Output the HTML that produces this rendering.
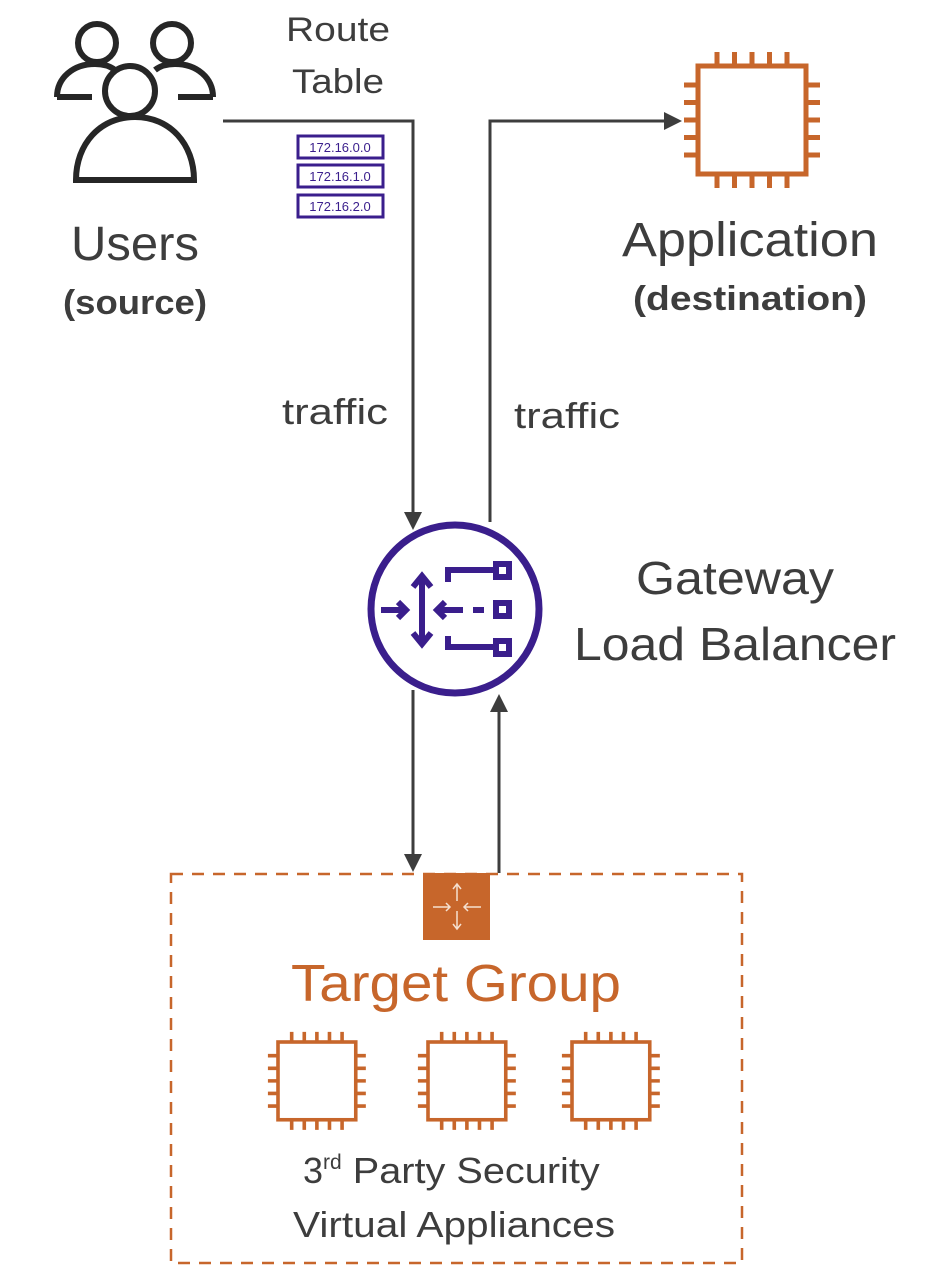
<!DOCTYPE html>
<html><head><meta charset="utf-8"><style>
html,body{margin:0;padding:0;background:#fff;}
svg{display:block;}
text{font-family:"Liberation Sans",sans-serif;fill:#3d3d3d;}
</style></head><body>
<svg width="944" height="1274" viewBox="0 0 944 1274" xmlns="http://www.w3.org/2000/svg">
<defs>
<g id="chip" fill="none" stroke="#c7662b" stroke-width="5">
  <rect x="0" y="0" width="108" height="108"/>
  <path d="M19 0v-14M36.5 0v-14M54 0v-14M71.5 0v-14M89 0v-14 M19 108v14M36.5 108v14M54 108v14M71.5 108v14M89 108v14 M0 19h-14M0 36.5h-14M0 54h-14M0 71.5h-14M0 89h-14 M108 19h14M108 36.5h14M108 54h14M108 71.5h14M108 89h14"/>
</g>
</defs>

<!-- Users icon -->
<g fill="none" stroke="#262626" stroke-width="6">
  <circle cx="97" cy="43" r="19"/>
  <circle cx="172" cy="43" r="19"/>
  <path d="M57 97 C57 78 73 64 95 64 C104 64 110 66 115 70"/>
  <path d="M57 97 H92"/>
  <path d="M213 97 C213 78 197 64 175 64 C166 64 160 66 155 70"/>
  <path d="M213 97 H178"/>
  <circle cx="130" cy="91" r="25"/>
  <path d="M76 180 C76 144 100 117 135 117 C170 117 194 144 194 180 Z"/>
</g>

<!-- Labels -->
<text x="338" y="41" font-size="34" text-anchor="middle" textLength="104" lengthAdjust="spacingAndGlyphs">Route</text>
<text x="338" y="93" font-size="34" text-anchor="middle" textLength="92" lengthAdjust="spacingAndGlyphs">Table</text>
<text x="135" y="260" font-size="48" text-anchor="middle" textLength="128" lengthAdjust="spacingAndGlyphs">Users</text>
<text x="135" y="314" font-size="34" font-weight="bold" text-anchor="middle" textLength="144" lengthAdjust="spacingAndGlyphs">(source)</text>
<text x="750" y="256" font-size="48" text-anchor="middle" textLength="256" lengthAdjust="spacingAndGlyphs">Application</text>
<text x="750" y="310" font-size="34" font-weight="bold" text-anchor="middle" textLength="234" lengthAdjust="spacingAndGlyphs">(destination)</text>
<text x="335" y="424" font-size="36" text-anchor="middle" textLength="106" lengthAdjust="spacingAndGlyphs">traffic</text>
<text x="567" y="428" font-size="36" text-anchor="middle" textLength="106" lengthAdjust="spacingAndGlyphs">traffic</text>
<text x="735" y="594" font-size="46" text-anchor="middle" textLength="198" lengthAdjust="spacingAndGlyphs">Gateway</text>
<text x="735" y="660" font-size="46" text-anchor="middle" textLength="322" lengthAdjust="spacingAndGlyphs">Load Balancer</text>

<!-- Route table boxes -->
<g font-size="13">
  <rect x="298" y="136" width="85" height="22" fill="#fff" stroke="#3a1e8c" stroke-width="3"/>
  <text x="340" y="152" text-anchor="middle" style="fill:#3a1e8c">172.16.0.0</text>
  <rect x="298" y="165" width="85" height="22" fill="#fff" stroke="#3a1e8c" stroke-width="3"/>
  <text x="340" y="181" text-anchor="middle" style="fill:#3a1e8c">172.16.1.0</text>
  <rect x="298" y="195" width="85" height="22" fill="#fff" stroke="#3a1e8c" stroke-width="3"/>
  <text x="340" y="211" text-anchor="middle" style="fill:#3a1e8c">172.16.2.0</text>
</g>

<!-- Connectors -->
<g stroke="#3d3d3d" stroke-width="3" fill="none">
  <path d="M223 121 H413 V512"/>
  <path d="M490 522 V121 H666"/>
  <path d="M413 690 V856"/>
  <path d="M499 873 V710"/>
</g>
<g fill="#3d3d3d">
  <polygon points="404,512 422,512 413,530"/>
  <polygon points="664,112 664,130 682,121"/>
  <polygon points="404,854 422,854 413,872"/>
  <polygon points="490,712 508,712 499,694"/>
</g>

<!-- Application chip -->
<use href="#chip" x="698" y="66"/>

<!-- GWLB -->
<circle cx="455" cy="609" r="84" fill="#fff" stroke="#3a1e8c" stroke-width="7"/>
<g fill="none" stroke="#3a1e8c" stroke-width="6">
  <path d="M381 610 H406 M398 602 L406 610 L398 618"/>
  <path d="M422 578 V642 M413 587 L422 576 L431 587 M413 633 L422 644 L431 633"/>
  <path d="M463 610 H437 M445 602 L437 610 L445 618"/>
  <path d="M473 610 H484"/>
  <path d="M448 582 V570 H498"/>
  <path d="M448 636 V647 H498"/>
  <rect x="496" y="564" width="13" height="13"/>
  <rect x="496" y="603" width="13" height="13"/>
  <rect x="496" y="641" width="13" height="13"/>
</g>

<!-- Target group box -->
<rect x="171" y="874" width="571" height="389" fill="none" stroke="#c7662b" stroke-width="2.5" stroke-dasharray="12 9"/>
<rect x="423" y="873" width="67" height="67" fill="#c7662b"/>
<g stroke="#f5e0d0" stroke-width="1.5" fill="none">
  <path d="M457 884 V901 M453 889 L457 884 L461 889"/>
  <path d="M457 911 V929 M453 924 L457 929 L461 924"/>
  <path d="M433 907 H450 M446 903 L450 907 L446 911"/>
  <path d="M481 907 H464 M468 903 L464 907 L468 911"/>
</g>
<text x="456" y="1001" font-size="52" text-anchor="middle" textLength="330" lengthAdjust="spacingAndGlyphs" style="fill:#c7662b">Target Group</text>

<g transform="translate(278,1042) scale(0.72)"><use href="#chip"/></g>
<g transform="translate(428,1042) scale(0.72)"><use href="#chip"/></g>
<g transform="translate(572,1042) scale(0.72)"><use href="#chip"/></g>

<text x="303" y="1183" font-size="36">3<tspan font-size="21" dy="-14">rd</tspan><tspan dy="14" textLength="258" lengthAdjust="spacingAndGlyphs"> Party Security</tspan></text>
<text x="454" y="1237" font-size="36" text-anchor="middle" textLength="322" lengthAdjust="spacingAndGlyphs">Virtual Appliances</text>
</svg>
</body></html>
